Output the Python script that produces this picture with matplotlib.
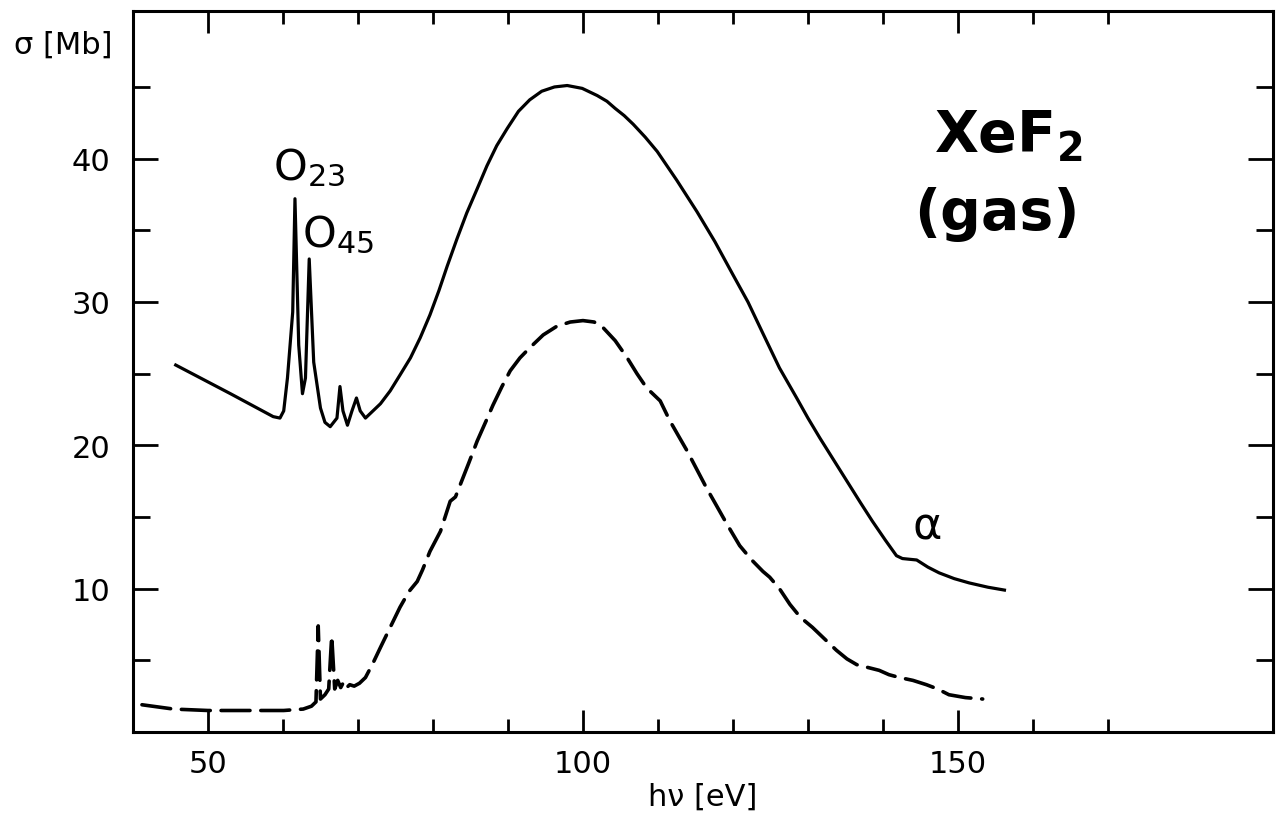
import matplotlib
matplotlib.use("Agg")
import matplotlib.pyplot as plt

# XeF2 gas photoabsorption
solid_ev = [45.7, 53.0, 58.7, 59.6, 60.1, 60.6, 61.3, 61.6, 62.1, 62.6, 63.0, 63.5,
            64.1, 65.0, 65.6, 66.3, 67.2, 67.6, 68.0, 68.6, 69.2, 69.8, 70.3, 71.0,
            72.0, 73.0, 74.3, 75.6, 77.0, 78.3, 79.6, 80.8, 81.9, 83.2, 84.5, 85.9,
            87.2, 88.5, 89.9, 91.4, 92.9, 94.5, 96.2, 97.9, 99.9, 101.9, 103.2, 104.3,
            105.5, 106.7, 108.3, 109.9, 112.5, 115.2, 117.6, 120.0, 122.0, 124.0, 126.2,
            128.5, 130.0, 131.6, 133.4, 135.2, 137.0, 138.6, 140.3, 141.8, 142.6, 144.5,
            146.0, 147.5, 149.5, 151.5, 154.0, 156.2]
solid_sigma = [25.6, 23.6, 22.0, 21.9, 22.4, 24.7, 29.3, 37.2, 27.0, 23.6, 24.7, 33.0,
               25.8, 22.6, 21.6, 21.3, 21.9, 24.1, 22.4, 21.4, 22.4, 23.3, 22.4, 21.9,
               22.4, 22.9, 23.8, 24.9, 26.1, 27.5, 29.1, 30.8, 32.5, 34.4, 36.2, 37.9,
               39.5, 40.9, 42.1, 43.3, 44.1, 44.7, 45.0, 45.1, 44.9, 44.4, 44.0, 43.5,
               43.0, 42.4, 41.5, 40.5, 38.5, 36.3, 34.2, 31.9, 30.0, 27.8, 25.4,
               23.3, 21.9, 20.5, 19.0, 17.5, 16.0, 14.7, 13.4, 12.3, 12.1, 12.0,
               11.5, 11.1, 10.7, 10.4, 10.1, 9.9]

dashed_ev = [41.2, 45.4, 50.0, 55.0, 60.1, 62.7, 63.8, 64.4, 64.7, 65.0, 65.6, 66.1,
             66.5, 66.9, 67.3, 67.7, 68.1, 68.5, 68.9, 69.5, 70.2, 71.0, 72.0, 73.0,
             74.3, 75.6, 76.8, 77.9, 78.6, 79.6, 81.0, 82.3, 83.0, 83.6, 84.8, 85.9,
             87.0, 88.0, 89.2, 90.3, 91.6, 92.9, 94.7, 96.5, 98.3, 100.0, 101.5, 102.7,
             104.3, 105.9, 107.2, 108.5, 110.3, 111.6, 112.8, 113.9, 115.2, 116.5, 117.8,
             119.2, 120.9, 122.5, 124.0, 124.9, 126.2, 127.6, 129.0, 130.6, 132.2, 133.8,
             135.2, 136.5, 138.0, 139.5, 140.8, 142.2, 144.0, 145.8, 147.3, 148.8, 151.0,
             153.3]
dashed_sigma = [1.9, 1.6, 1.5, 1.5, 1.5, 1.6, 1.8, 2.1, 7.4, 2.3, 2.6, 3.0,
                6.7, 3.0, 3.6, 3.1, 3.5, 3.1, 3.3, 3.2, 3.4, 3.8, 4.8, 5.9,
                7.3, 8.7, 9.8, 10.5, 11.3, 12.6, 14.0, 16.1, 16.4, 17.2, 18.8, 20.3,
                21.6, 22.8, 24.1, 25.2, 26.1, 26.8, 27.7, 28.3, 28.6, 28.7, 28.6, 28.2,
                27.3, 26.1, 25.0, 24.0, 23.1, 21.7, 20.6, 19.6, 18.3, 17.0, 15.8,
                14.5, 13.0, 12.0, 11.2, 10.8, 10.0, 8.9, 8.0, 7.3, 6.5, 5.7,
                5.1, 4.7, 4.5, 4.3, 4.0, 3.8, 3.6, 3.3, 3.0, 2.6, 2.4,
                2.3]

x_major = [50, 100, 150]
x_minor = [60, 70, 80, 90, 110, 120, 130, 140, 160, 170]
y_major = [10, 20, 30, 40]
y_minor = [5, 15, 25, 35, 45]

plt.rcParams['font.family'] = ['DejaVu Sans']

fig = plt.figure(figsize=(12.81, 8.2), dpi=100)
ax = fig.add_axes([0.1038, 0.1061, 0.8899, 0.8793])

ax.plot(solid_ev, solid_sigma, color='black', lw=2.3, solid_joinstyle='round')
ax.plot(dashed_ev, dashed_sigma, color='black', lw=2.6, linestyle=(0, (8, 3)),
        dash_capstyle='round')

ax.set_xlim(40, 192)
ax.set_ylim(0, 50.3)

ax.set_xticks(x_major)
ax.set_xticks(x_minor, minor=True)
ax.set_yticks(y_major)
ax.set_yticks(y_minor, minor=True)
ax.tick_params(which='both', direction='in', top=True, right=True, width=2,
               labelsize=22, color='black')
ax.tick_params(axis='x', which='major', length=16, pad=12)
ax.tick_params(axis='x', which='minor', length=9.5)
ax.tick_params(axis='y', which='major', length=18, pad=16)
ax.tick_params(axis='y', which='minor', length=12)
for s in ax.spines.values():
    s.set_linewidth(2.2)

fig.text(0.0882, 0.945, "σ [Mb]", ha='right', va='center', fontsize=22)
fig.text(0.5488, 1 - 797 / 820, "hν [eV]", ha='center', va='center', fontsize=22)

ax.text(58.7, 38.6, "O$_{23}$", fontsize=31, ha='left', va='baseline')
ax.text(62.6, 33.9, "O$_{45}$", fontsize=31, ha='left', va='baseline')
ax.text(145.9, 14.4, "α", fontsize=32, ha='center', va='center')
ax.text(156.7, 40.5, r"XeF$_\mathbf{2}$", fontsize=41, fontweight='bold',
        ha='center', va='baseline')
ax.text(155.2, 35.1, "(gas)", fontsize=41, fontweight='bold', ha='center', va='baseline')

fig.savefig("out.png", dpi=100)
